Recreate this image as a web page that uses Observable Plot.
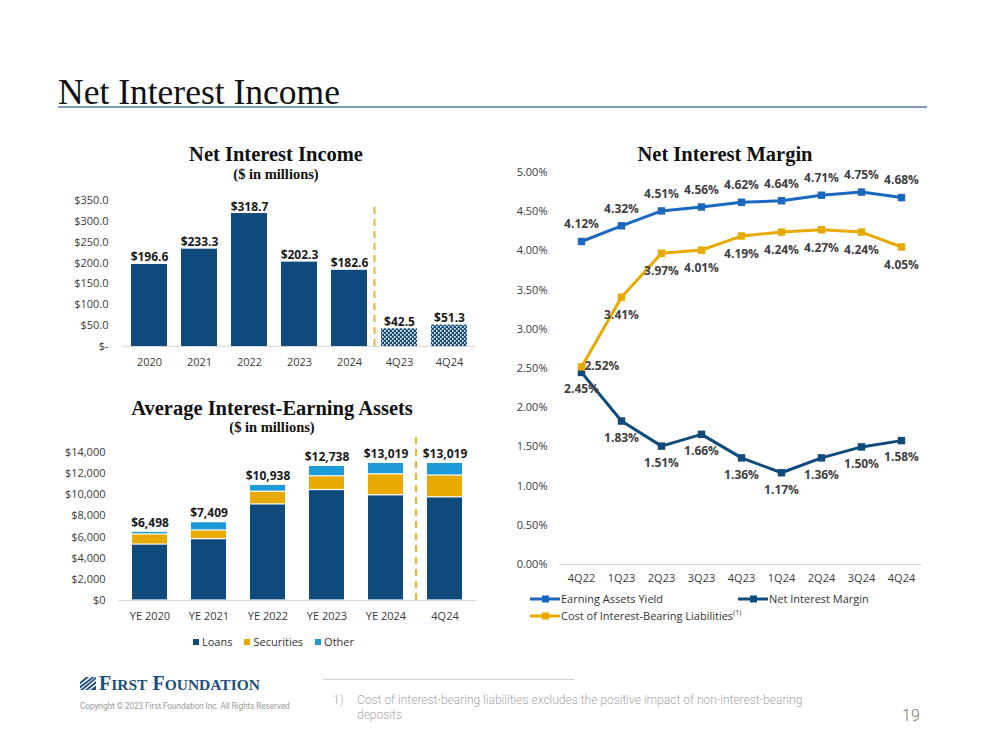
<!DOCTYPE html>
<html>
<head>
<meta charset="utf-8">
<script src="https://cdn.jsdelivr.net/npm/d3@7"></script>
<script src="https://cdn.jsdelivr.net/npm/@observablehq/plot@0.6"></script>
<style>
  html, body { margin: 0; padding: 0; background: #fff; }
  #page { position: relative; width: 999px; height: 750px; background: #fff; overflow: hidden; font-family: "Open Sans", sans-serif; }
  .abs { position: absolute; white-space: nowrap; }
  .ctitle { font-family: "Liberation Serif", serif; font-weight: bold; color: #111; transform: translateX(-50%); }
  .plotwrap { position: absolute; }
  .plotwrap svg { overflow: visible; }
  .leg { font-family: "Open Sans", sans-serif; font-size: 11px; color: #333; display: flex; align-items: center; }
  .sc { font-size: 15.5px; }
</style>
</head>
<body>
<div id="page">
  <div class="abs" style="left:58px; top:72px; font-family:'Liberation Serif',serif; font-size:35.5px; line-height:40px; color:#111;">Net Interest Income</div>
  <div class="abs" style="left:58px; top:106px; width:869px; height:1.5px; background:#7f9dbb;"></div>

  <div class="abs ctitle" style="left:276px; top:142px; font-size:20.5px; line-height:24px;">Net Interest Income</div>
  <div class="abs ctitle" style="left:276px; top:165px; font-size:14.5px; line-height:18px;">($ in millions)</div>
  <div id="c1" class="plotwrap" style="left:60px; top:190px;"></div>

  <div class="abs ctitle" style="left:272px; top:396px; font-size:20.5px; line-height:24px;">Average Interest-Earning Assets</div>
  <div class="abs ctitle" style="left:272px; top:418px; font-size:14.5px; line-height:18px;">($ in millions)</div>
  <div id="c2" class="plotwrap" style="left:60px; top:430px;"></div>
  <div id="leg2" class="abs leg" style="left:193px; top:634px;"></div>

  <div class="abs ctitle" style="left:725px; top:142px; font-size:20.5px; line-height:24px;">Net Interest Margin</div>
  <div id="c3" class="plotwrap" style="left:500px; top:160px;"></div>
  <div id="leg3" class="abs" style="left:0; top:0;"></div>

  <!-- footer -->
  <svg class="abs" style="left:79px; top:676px;" width="18" height="15" viewBox="0 0 18 15">
    <path d="M1 14 L17 1 L17 3 L4 14 Z" fill="#1d4f80"/>
    <path d="M1 10 L13 1 L16 1 L1 12.5 Z" fill="#1d4f80"/>
    <path d="M1 6 L7 1 L10 1 L1 8.5 Z" fill="#1d4f80"/>
    <path d="M6 14 L17 5 L17 7.5 L9 14 Z" fill="#1d4f80"/>
    <path d="M11 14 L17 9.5 L17 14 Z" fill="#1d4f80"/>
  </svg>
  <div class="abs" style="left:99px; top:673px; font-family:'Liberation Serif',serif; font-weight:bold; font-size:20px; line-height:20px; color:#1d4f80;">F<span class="sc">IRST</span> F<span class="sc">OUNDATION</span></div>
  <div class="abs" style="left:80px; top:700px; font-family:'Roboto',sans-serif; font-size:8.3px; line-height:12px; color:#9a9a9a; letter-spacing:-0.1px;">Copyright © 2023 First Foundation Inc. All Rights Reserved</div>

  <div class="abs" style="left:323px; top:679px; width:251px; height:1px; background:#d0d0d0;"></div>
  <div class="abs" style="left:333px; top:693px; font-family:'Roboto',sans-serif; font-weight:300; font-size:12px; line-height:15px; color:#a8a8a8;">1)</div>
  <div class="abs" style="left:357px; top:693px; font-family:'Roboto',sans-serif; font-weight:300; font-size:12px; line-height:15px; color:#a8a8a8; white-space:normal; width:455px;">Cost of interest-bearing liabilities excludes the positive impact of non-interest-bearing deposits</div>
  <div class="abs" style="left:902px; top:706px; font-family:'Roboto',sans-serif; font-weight:300; font-size:16px; line-height:20px; color:#777;">19</div>
</div>

<script>
// ---------- Data ----------
const nii_categories = ["2020", "2021", "2022", "2023", "2024", "4Q23", "4Q24"];
const nii_values = [196.6, 233.3, 318.7, 202.3, 182.6, 42.5, 51.3];
const nii_quarterly = ["4Q23", "4Q24"];
const nii_ticks = [0, 50, 100, 150, 200, 250, 300, 350];

const aiea_categories = ["YE 2020", "YE 2021", "YE 2022", "YE 2023", "YE 2024", "4Q24"];
const aiea_series = ["Loans", "Securities", "Other"];
const aiea_loans = [5290, 5800, 9090, 10450, 9950, 9760];
const aiea_securities = [960, 820, 1200, 1300, 1990, 2060];
const aiea_other = [248, 789, 648, 988, 1079, 1199];
const aiea_totals = [6498, 7409, 10938, 12738, 13019, 13019];
const aiea_ticks = [0, 2000, 4000, 6000, 8000, 10000, 12000, 14000];

const nim_quarters = ["4Q22", "1Q23", "2Q23", "3Q23", "4Q23", "1Q24", "2Q24", "3Q24", "4Q24"];
const nim_series = ["Earning Assets Yield", "Net Interest Margin", "Cost of Interest-Bearing Liabilities"];
const nim_yield = [4.12, 4.32, 4.51, 4.56, 4.62, 4.64, 4.71, 4.75, 4.68];
const nim_margin = [2.45, 1.83, 1.51, 1.66, 1.36, 1.17, 1.36, 1.50, 1.58];
const nim_cost = [2.52, 3.41, 3.97, 4.01, 4.19, 4.24, 4.27, 4.24, 4.05];
const nim_ticks = [0, 0.5, 1, 1.5, 2, 2.5, 3, 3.5, 4, 4.5, 5];

// ---------- Styles ----------
const NAVY = "#0f4a7c";
const GOLD = "#e9aa00";
const LIGHTBLUE = "#1d9ad8";
const BLUE = "#1b68c0";
const DASHGOLD = "#f0b323";
const AXISLINE = "#d9d9d9";
const TICKCOLOR = "#3a3a3a";
const baseStyle = {fontFamily: "Open Sans, sans-serif", fontSize: "11px", color: TICKCOLOR, background: "transparent", overflow: "visible"};

// ---------- Chart 1: Net Interest Income ----------
const niiData = nii_categories.map((c, i) => ({cat: c, value: nii_values[i], q: nii_quarterly.includes(c)}));
const c1 = Plot.plot({
  width: 420, height: 190,
  marginLeft: 62, marginRight: 5, marginTop: 10, marginBottom: 34,
  style: baseStyle,
  x: {domain: nii_categories, paddingInner: 0.283, paddingOuter: 0.16, label: null},
  y: {domain: [0, 350], label: null},
  marks: [
    Plot.barY(niiData.filter(d => !d.q), {x: "cat", y: "value", fill: NAVY}),
    Plot.barY(niiData.filter(d => d.q), {x: "cat", y: "value", fill: "url(#niiCheck)"}),
    Plot.ruleY([0], {stroke: AXISLINE, strokeWidth: 1.2}),
    Plot.ruleX([nii_quarterly[0]], {x: d => d, y1: 0, y2: 343, dx: -25, stroke: DASHGOLD, strokeWidth: 2, strokeDasharray: "7,5"}),
    Plot.text(niiData, {x: "cat", y: "value", text: d => "$" + d.value.toFixed(1), lineAnchor: "bottom", dy: -3, fontWeight: "bold", fontSize: 12, fill: "#1a1a1a"}),
    Plot.axisY({ticks: nii_ticks, tickSize: 0, tickPadding: 14, tickFormat: d => d === 0 ? "$-" : "$" + d.toFixed(1), fontSize: 11, label: null}),
    Plot.axisX({tickSize: 0, tickPadding: 12, fontSize: 11, label: null})
  ]
});
d3.select(c1).insert("defs", ":first-child").html(
  `<pattern id="niiCheck" patternUnits="userSpaceOnUse" width="4" height="4">
     <rect width="4" height="4" fill="${NAVY}"/>
     <rect x="0" y="0" width="1.6" height="1.6" fill="#ffffff"/>
     <rect x="2" y="2" width="1.6" height="1.6" fill="#ffffff"/>
   </pattern>`);
document.getElementById("c1").appendChild(c1);

// ---------- Chart 2: Average Interest-Earning Assets ----------
const aieaParts = [aiea_loans, aiea_securities, aiea_other];
const aieaData = [];
aiea_categories.forEach((c, i) => {
  aiea_series.forEach((s, j) => aieaData.push({cat: c, series: s, value: aieaParts[j][i]}));
});
const aieaTotals = aiea_categories.map((c, i) => ({cat: c, total: aiea_totals[i]}));
const c2 = Plot.plot({
  width: 420, height: 200,
  marginLeft: 58, marginRight: 4, marginTop: 22, marginBottom: 30,
  style: baseStyle,
  x: {domain: aiea_categories, paddingInner: 0.4, paddingOuter: 0.22, label: null},
  y: {domain: [0, 14000], label: null},
  color: {domain: aiea_series, range: [NAVY, GOLD, LIGHTBLUE]},
  marks: [
    Plot.barY(aieaData, {x: "cat", y: "value", fill: "series", order: aiea_series, insetTop: 0.6, insetBottom: 0.6}),
    Plot.ruleY([0], {stroke: AXISLINE, strokeWidth: 1.2}),
    Plot.ruleX([aiea_categories[5]], {x: d => d, y1: 0, y2: 15900, dx: -29, stroke: DASHGOLD, strokeWidth: 2, strokeDasharray: "7,5"}),
    Plot.text(aieaTotals, {x: "cat", y: "total", text: d => "$" + d3.format(",")(d.total), lineAnchor: "bottom", dy: -5, fontWeight: "bold", fontSize: 12, fill: "#1a1a1a"}),
    Plot.axisY({ticks: aiea_ticks, tickSize: 0, tickPadding: 13, tickFormat: d => "$" + d3.format(",")(d), fontSize: 11, label: null}),
    Plot.axisX({tickSize: 0, tickPadding: 12, fontSize: 11, label: null})
  ]
});
document.getElementById("c2").appendChild(c2);

// legend chart 2
const leg2 = document.getElementById("leg2");
const leg2Colors = [NAVY, GOLD, LIGHTBLUE];
aiea_series.forEach((s, i) => {
  const item = document.createElement("span");
  item.style.cssText = "display:inline-flex;align-items:center;margin-right:12px;";
  item.innerHTML = `<span style="display:inline-block;width:6px;height:6px;background:${leg2Colors[i]};margin-right:3px;"></span>${s}`;
  leg2.appendChild(item);
});

// ---------- Chart 3: Net Interest Margin ----------
const nimValues = [nim_yield, nim_margin, nim_cost];
const nimColors = [BLUE, NAVY, GOLD];
const nimData = [];
nim_series.forEach((s, j) => nim_quarters.forEach((q, i) => nimData.push({q, series: s, value: nimValues[j][i], idx: i})));
const bySeries = s => nimData.filter(d => d.series === s);
const fmtPct = d => d.value.toFixed(2) + "%";
const labelStyle = {fontWeight: "bold", fontSize: 12, fill: "#404040"};
const c3 = Plot.plot({
  width: 430, height: 440,
  marginLeft: 59, marginRight: 8, marginTop: 12, marginBottom: 36,
  style: baseStyle,
  x: {type: "point", domain: nim_quarters, padding: 0.5, label: null},
  y: {domain: [0, 5], label: null},
  color: {domain: nim_series, range: nimColors},
  marks: [
    Plot.ruleY([0], {stroke: AXISLINE, strokeWidth: 1.2}),
    Plot.line(nimData, {x: "q", y: "value", z: "series", stroke: "series", strokeWidth: 3}),
    Plot.dot(nimData, {x: "q", y: "value", fill: "series", symbol: "square", r: 4.2}),
    Plot.text(bySeries(nim_series[0]), {x: "q", y: "value", text: fmtPct, dy: -17, ...labelStyle}),
    Plot.text(bySeries(nim_series[1]), {x: "q", y: "value", text: fmtPct, dy: 17, ...labelStyle}),
    Plot.text(bySeries(nim_series[2]).filter(d => d.idx > 0), {x: "q", y: "value", text: fmtPct, dy: 18, ...labelStyle}),
    Plot.text(bySeries(nim_series[2]).filter(d => d.idx === 0), {x: "q", y: "value", text: fmtPct, dx: 3, dy: -1, textAnchor: "start", ...labelStyle}),
    Plot.axisY({ticks: nim_ticks, tickSize: 0, tickPadding: 12, tickFormat: d => d.toFixed(2) + "%", fontSize: 11, label: null}),
    Plot.axisX({tickSize: 0, tickPadding: 10, fontSize: 11, label: null})
  ]
});
document.getElementById("c3").appendChild(c3);

// legend chart 3
const leg3 = document.getElementById("leg3");
const leg3Pos = [[530, 599], [738, 599], [530, 616]];
nim_series.forEach((s, i) => {
  const el = document.createElement("div");
  el.className = "abs leg";
  el.style.left = leg3Pos[i][0] + "px";
  el.style.top = (leg3Pos[i][1] - 8) + "px";
  el.style.lineHeight = "16px";
  const sup = i === 2 ? `<sup style="font-size:7px;position:relative;top:-3px;">(1)</sup>` : "";
  el.innerHTML = `<svg width="30" height="16" style="margin-right:1px"><line x1="0" y1="8" x2="30" y2="8" stroke="${nimColors[i]}" stroke-width="3"/><rect x="12" y="4.5" width="7" height="7" fill="${nimColors[i]}"/></svg><span>${s}</span>${sup}`;
  leg3.appendChild(el);
});
</script>
</body>
</html>
